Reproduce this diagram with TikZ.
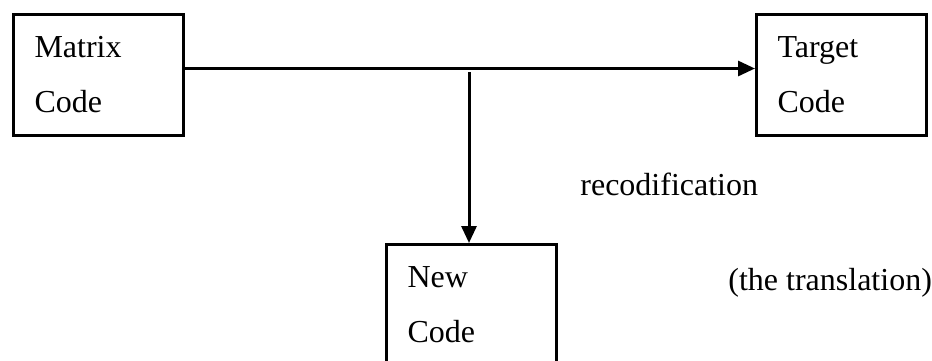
\documentclass[tikz,border=0pt]{standalone}
\usepackage{fontspec}
\setmainfont{Liberation Serif}
\usetikzlibrary{arrows.meta, positioning, calc}
\tikzset{
  codebox/.style={draw=black, line width=1.5pt, anchor=north west,
    minimum width=85pt, minimum height=60.5pt, inner xsep=10.5pt,
    text width=64pt, align=left,
    font=\fontsize{16}{27.5}\selectfont},
  flow/.style={-{Triangle[length=8.5pt, width=7.5pt]}, line width=1.5pt},
  remark/.style={anchor=base west, inner sep=0pt,
    font=\fontsize{16}{19}\selectfont},
}

\begin{document}
\begin{tikzpicture}[x=0.5pt, y=-0.5pt]
  \useasboundingbox (0,0) rectangle (932,360);
  \clip (0,0) rectangle (932,360);

  % ----------------------------------------------------------------
  % Codes
  % ----------------------------------------------------------------
  \node[codebox] (matrix) at (12,13) {Matrix\\Code};
  \node[codebox] (target) at (755,13) {Target\\Code};
  \node[codebox] (new) at (385,243) {New\\Code};

  % ----------------------------------------------------------------
  % Arrows
  % ----------------------------------------------------------------
  \draw[flow] ([yshift=3.25pt]matrix.east) -- ([yshift=3.25pt]target.west);
  \coordinate (split) at (469,72);
  \draw[flow] (split) -- (split |- new.north);

  % ----------------------------------------------------------------
  % Labels
  % ----------------------------------------------------------------
  \node[remark] (recod) at (580,195) {recodification};
  \node[remark] (transl) at (728,290) {(the translation)};

\end{tikzpicture}
\end{document}
